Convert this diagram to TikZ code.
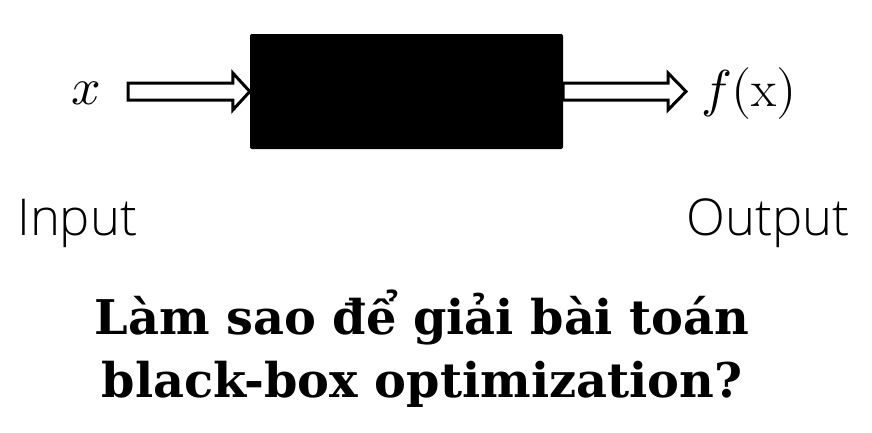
\documentclass[tikz,border=0pt]{standalone}
\usepackage{fontspec}
\usepackage{unicode-math}
\setmathfont{Latin Modern Math}
\usetikzlibrary{calc, positioning}
\newfontfamily\titlefont{DejaVu Serif}
\IfFontExistsTF{Open Sans Light}
  {\newfontfamily\labelfont{Open Sans Light}}
  {\newfontfamily\labelfont{Open Sans}}

\tikzset{
  fatarrow/.style={draw=black, fill=white, line width=3bp, line join=miter},
  iolabel/.style={font=\labelfont\fontsize{51}{60}\selectfont, inner sep=0pt},
  mathlabel/.style={font=\fontsize{52}{60}\selectfont, inner sep=0pt},
  titleline/.style={font=\titlefont\bfseries\fontsize{48}{63}\selectfont, inner sep=0pt, anchor=base}
}

\begin{document}
\begin{tikzpicture}[x=1bp, y=-1bp]
            \useasboundingbox (0,0) rectangle (872,432);

            % Black box
            \node[fill=black, rounded corners=2bp, minimum width=313bp, minimum height=115bp, inner sep=0pt] (bbox) at (406.5,91.5) {};

            % Input side
            \node[mathlabel, anchor=base] (xin) at (86,104) {$x$};
            \coordinate (inS) at (128,91.5);
            \draw[fatarrow] ($(inS)+(0,-8.5)$) -- ($(bbox.west)+(-17,-8.5)$) -- ($(bbox.west)+(-17,-18.5)$)
                -- (bbox.west) -- ($(bbox.west)+(-17,18.5)$) -- ($(bbox.west)+(-17,8.5)$) -- ($(inS)+(0,8.5)$) -- cycle;

            % Output side
            \coordinate (outT) at (686,91.5);
            \draw[fatarrow] ($(bbox.east)+(0,-8.5)$) -- ($(outT)+(-18,-8.5)$) -- ($(outT)+(-18,-18.5)$)
                -- (outT) -- ($(outT)+(-18,18.5)$) -- ($(outT)+(-18,8.5)$) -- ($(bbox.east)+(0,8.5)$) -- cycle;
            \node[mathlabel, anchor=base west] (fout) at (701,106) {$f(\mathrm{x})$};

            % Labels
            \node[iolabel, anchor=base west] (inlabel) at (17,235) {Input};
            \node[iolabel, anchor=base east] (outlabel) at (850,235) {Output};

            % Question
            \node[titleline] (title1) at (422,334) {Làm sao để giải bài toán};
            \node[titleline] (title2) at (422,397) {black-box optimization?};
\end{tikzpicture}
\end{document}
